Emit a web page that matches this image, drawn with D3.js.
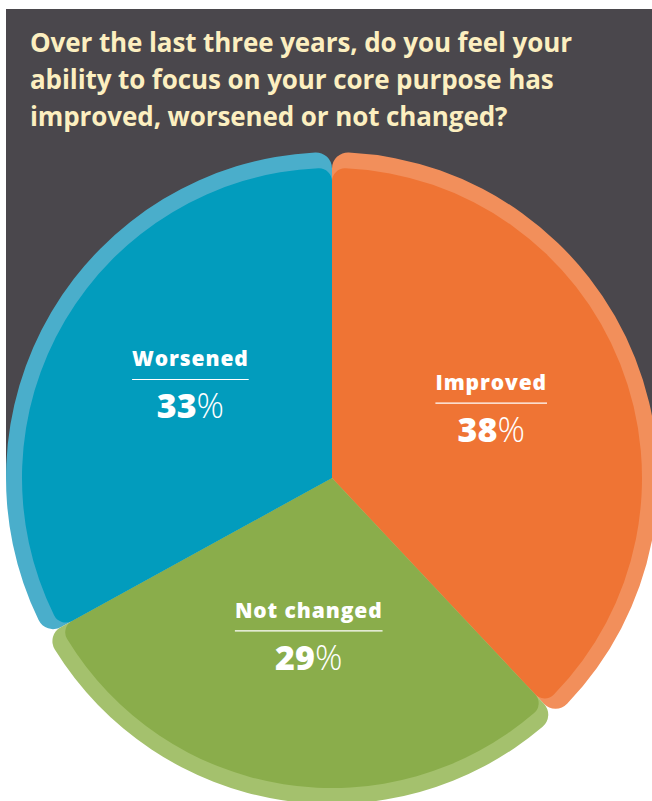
<!DOCTYPE html>
<html>
<head>
<meta charset="utf-8">
<script src="https://cdn.jsdelivr.net/npm/d3@7"></script>
<style>
  html, body { margin: 0; padding: 0; background: #ffffff; }
  svg { display: block; }
</style>
</head>
<body>
<svg id="chart" width="652" height="801"></svg>
<script>
// Survey answers, share of respondents (%)
const categories = ["Improved", "Not changed", "Worsened"];
const values = [38, 29, 33];
const valueLabels = ["38", "29", "33"];
const titleLines = [
  "Over the last three years, do you feel your",
  "ability to focus on your core purpose has",
  "improved, worsened or not changed?"
];

// Slice colours: main face and the lighter rim drawn behind it
const faceColor = d3.scaleOrdinal().domain(categories).range(["#ef7434", "#8aad4b", "#029cbd"]);
const rimColor = d3.scaleOrdinal().domain(categories).range(["#f28f5b", "#a4c16d", "#4aaecb"]);

const svg = d3.select("#chart");
const W = 652, H = 801;
const cx = 332, cy = 478;
const rimRadius = 326, faceRadius = 310;
const fontFamily = "'Open Sans', Lato, sans-serif";

// Dark header panel behind the title and the upper half of the pie
svg.append("rect")
  .attr("x", 6).attr("y", 9)
  .attr("width", W - 6).attr("height", cy - 9)
  .attr("fill", "#4a474c");

// Title
svg.append("g")
  .selectAll("text")
  .data(titleLines)
  .join("text")
  .attr("x", 30)
  .attr("y", (d, i) => 52 + i * 37)
  .attr("fill", "#fcefc0")
  .attr("font-family", fontFamily)
  .attr("font-weight", 700)
  .attr("font-size", 26)
  .attr("letter-spacing", -0.1)
  .text(d => d);

const data = categories.map((c, i) => ({ name: c, value: values[i], label: valueLabels[i] }));

const pie = d3.pie().sort(null).value(d => d.value);
const arcs = pie(data);

const rimArc = d3.arc().innerRadius(0).outerRadius(rimRadius).cornerRadius(16);
const faceArc = d3.arc().innerRadius(0).outerRadius(faceRadius).cornerRadius(13);
const labelArc = d3.arc().innerRadius(168).outerRadius(168);

const g = svg.append("g").attr("transform", `translate(${cx},${cy})`);

// Rims first (orange, blue, green so green sits on top at the lower-left), faces over them
const rimOrder = [0, 2, 1];
g.append("g")
  .selectAll("path")
  .data(rimOrder.map(i => arcs[i]))
  .join("path")
  .attr("d", rimArc)
  .attr("fill", d => rimColor(d.data.name));

g.append("g")
  .selectAll("path")
  .data(arcs)
  .join("path")
  .attr("d", faceArc)
  .attr("fill", d => faceColor(d.data.name));

// Slice labels: name, rule, value
const labels = g.append("g")
  .selectAll("g")
  .data(arcs)
  .join("g")
  .attr("transform", d => {
    const [x, y] = labelArc.centroid(d);
    return `translate(${x + 3},${y - 13})`;
  });

labels.append("text")
  .attr("class", "name")
  .attr("text-anchor", "middle")
  .attr("y", -13)
  .attr("fill", "#ffffff")
  .attr("font-family", fontFamily)
  .attr("font-weight", 800)
  .attr("font-size", 21)
  .attr("letter-spacing", 0.9)
  .text(d => d.data.name);

labels.each(function () {
  const sel = d3.select(this);
  const w = sel.select("text.name").node().getBBox().width;
  sel.append("line")
    .attr("x1", -w / 2).attr("x2", w / 2)
    .attr("y1", 0).attr("y2", 0)
    .attr("stroke", "#ffffff")
    .attr("stroke-width", 1.2);
});

const val = labels.append("text")
  .attr("text-anchor", "middle")
  .attr("y", 39)
  .attr("fill", "#ffffff")
  .attr("font-family", fontFamily)
  .attr("font-size", 34);
val.append("tspan").attr("font-weight", 800).text(d => d.data.label);
val.append("tspan").attr("font-weight", 300).text("%");
</script>
</body>
</html>
